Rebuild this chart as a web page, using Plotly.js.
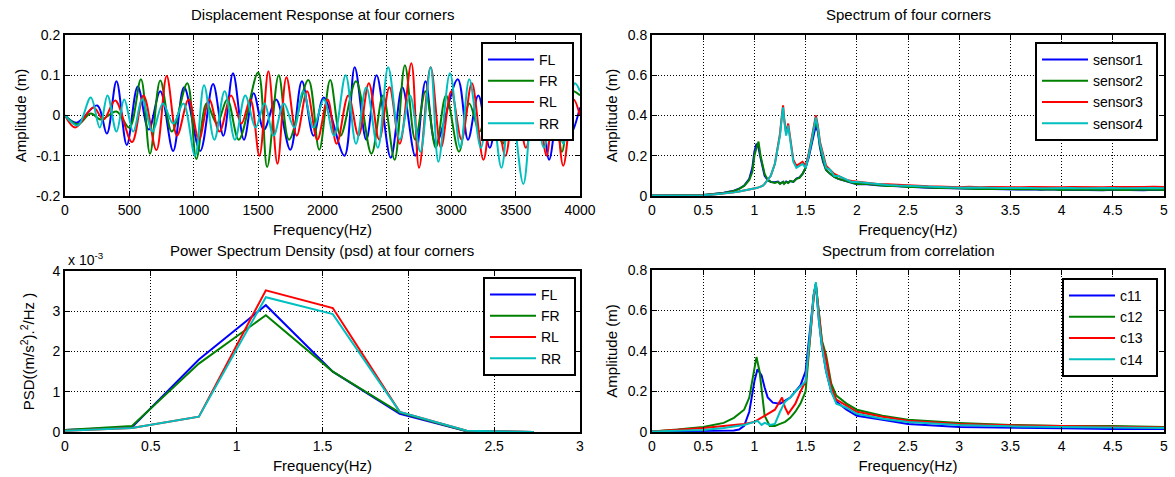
<!DOCTYPE html>
<html>
<head>
<meta charset="utf-8">
<script src="https://cdn.plot.ly/plotly-3.0.1.min.js"></script>
<style>html,body{margin:0;padding:0;background:#fff;}#chart{width:1175px;height:477px;}</style>
</head>
<body>
<div id="chart"></div>
<script>
// ---------- Panel 1: Displacement Response (extrema) ----------
const dispFL_x = [0,90,250,325,400,480,565,650,740,840,925,1050,1150,1230,1305,1390,1465,1545,1640,1750,1840,1930,2010,2170,2250,2340,2420,2530,2620,2720,2800,2880,3050,3130,3210,3300,3380,3470,3550,3650,3700,3760,3850,3920,4000];
const dispFL_y = [0,-0.018,0.025,-0.045,0.085,-0.073,0.072,-0.035,0.06,-0.088,0.07,-0.088,0.078,-0.05,0.105,-0.06,0.055,-0.035,0.04,-0.085,0.085,-0.05,0.045,-0.1,0.12,-0.06,0.1,-0.105,0.07,-0.1,0.085,-0.07,0.09,-0.06,0.05,-0.08,0.06,-0.05,0.07,-0.06,0.04,-0.11,0.06,-0.05,0.02];
const dispFR_x = [0,100,200,280,400,500,590,660,740,830,950,1020,1100,1180,1260,1350,1500,1570,1660,1740,1890,1975,2060,2140,2260,2380,2470,2560,2640,2720,2800,2880,2960,3060,3140,3220,3300,3400,3480,3560,3640,3720,3800,3860,3940,4000];
const dispFR_y = [0,-0.022,0.005,-0.01,0.01,-0.03,0.09,-0.095,0.087,-0.04,0.08,-0.108,0.03,-0.02,0.04,-0.06,0.107,-0.128,0.1,-0.06,0.088,-0.085,0.088,-0.05,0.085,-0.095,0.05,-0.11,0.125,-0.06,0.06,-0.08,0.05,-0.09,0.03,-0.04,0.05,-0.07,0.05,-0.06,0.04,-0.04,0.03,-0.09,0.06,0.05];
const dispRL_x = [0,80,220,300,390,520,610,710,790,870,960,1040,1120,1200,1290,1370,1440,1510,1580,1650,1720,1800,1880,1960,2040,2110,2200,2280,2360,2440,2520,2600,2690,2750,2840,2920,3000,3080,3160,3250,3330,3420,3500,3580,3660,3740,3800,3870,3950,4000];
const dispRL_y = [0,-0.03,0.02,-0.01,0.037,-0.066,0.05,-0.086,0.098,-0.05,0.04,-0.06,0.04,-0.04,0.05,-0.02,0.04,-0.1,0.11,-0.12,0.095,-0.05,0.06,-0.06,0.04,-0.07,0.05,-0.05,0.08,-0.06,0.07,-0.07,0.13,-0.13,0.12,-0.08,0.06,-0.06,0.08,-0.11,0.06,-0.1,0.05,-0.08,0.06,-0.1,0.05,-0.125,0.04,0.0];
const dispRR_x = [0,100,200,270,330,400,460,530,600,680,760,840,920,1010,1080,1160,1240,1320,1400,1480,1550,1620,1700,1780,1850,1930,2010,2090,2180,2260,2340,2430,2510,2600,2680,2760,2840,2900,2990,3070,3140,3230,3300,3390,3460,3560,3640,3720,3800,3870,3960,4000];
const dispRR_y = [0,-0.025,0.045,-0.03,0.05,-0.04,0.04,-0.04,0.04,-0.04,0.03,-0.02,0.03,-0.1,0.075,-0.06,0.06,-0.06,0.05,-0.03,0.03,-0.05,0.03,-0.03,0.06,-0.03,0.04,-0.05,0.1,-0.07,0.07,-0.08,0.12,-0.06,0.05,-0.09,0.12,-0.115,0.105,-0.08,0.09,-0.08,0.06,-0.13,0.04,-0.17,0.05,-0.08,0.06,-0.07,0.08,0.06];
const dispTickVals = [0,500,1000,1500,2000,2500,3000,3500,4000];
const dispTickText = ['0','500','1000','1500','2000','2500','3000','3500','4000'];
const dispYVals = [-0.2,-0.1,0,0.1,0.2];
const dispYText = ['-0.2','-0.1','0','0.1','0.2'];

// ---------- Panel 2: Spectrum of four corners ----------
const specF = [0,0.25,0.5,0.6,0.7,0.8,0.85,0.9,0.95,0.98,1.0,1.02,1.04,1.06,1.08,1.1,1.13,1.16,1.2,1.23,1.25,1.27,1.28,1.29,1.31,1.33,1.35,1.38,1.41,1.44,1.47,1.5,1.53,1.56,1.58,1.6,1.62,1.64,1.67,1.7,1.74,1.78,1.82,1.86,1.9,1.95,2.0,2.1,2.2,2.3,2.4,2.5,2.6,2.7,2.8,2.9,3.0,3.1,3.2,3.3,3.4,3.5,3.6,3.7,3.8,3.9,4.0,4.1,4.2,4.3,4.4,4.5,4.6,4.7,4.8,4.9,5.0];
const sensor1 = [0.003,0.003,0.005,0.01,0.016,0.026,0.036,0.052,0.085,0.14,0.22,0.26,0.24,0.19,0.14,0.1,0.08,0.07,0.068,0.072,0.062,0.066,0.07,0.062,0.072,0.066,0.074,0.07,0.086,0.092,0.11,0.14,0.19,0.26,0.31,0.35,0.32,0.24,0.17,0.13,0.11,0.095,0.085,0.08,0.074,0.066,0.058,0.058,0.053,0.05,0.048,0.045,0.044,0.041,0.04,0.039,0.037,0.036,0.035,0.035,0.033,0.034,0.032,0.034,0.031,0.033,0.03,0.031,0.03,0.031,0.029,0.031,0.03,0.03,0.029,0.031,0.03];
const sensor2 = [0.003,0.003,0.005,0.01,0.015,0.025,0.035,0.05,0.08,0.12,0.2,0.24,0.27,0.2,0.15,0.11,0.08,0.07,0.065,0.07,0.06,0.065,0.07,0.06,0.07,0.065,0.075,0.07,0.085,0.09,0.11,0.14,0.2,0.27,0.33,0.37,0.33,0.25,0.18,0.13,0.11,0.095,0.085,0.08,0.075,0.065,0.06,0.06,0.055,0.05,0.05,0.045,0.045,0.042,0.04,0.04,0.038,0.037,0.035,0.036,0.034,0.035,0.033,0.035,0.032,0.034,0.03,0.032,0.03,0.031,0.03,0.032,0.03,0.031,0.03,0.032,0.03];
const sensor3 = [0.003,0.003,0.004,0.008,0.012,0.018,0.022,0.027,0.03,0.033,0.035,0.04,0.043,0.048,0.05,0.06,0.08,0.1,0.16,0.25,0.31,0.41,0.45,0.39,0.31,0.36,0.28,0.18,0.15,0.16,0.17,0.15,0.21,0.29,0.34,0.4,0.35,0.27,0.21,0.15,0.13,0.11,0.1,0.09,0.08,0.075,0.072,0.066,0.06,0.058,0.055,0.052,0.05,0.048,0.047,0.045,0.044,0.046,0.043,0.045,0.044,0.046,0.043,0.045,0.044,0.046,0.043,0.045,0.044,0.046,0.043,0.045,0.044,0.046,0.045,0.046,0.045];
const sensor4 = [0.003,0.003,0.004,0.008,0.012,0.018,0.022,0.027,0.03,0.033,0.035,0.04,0.043,0.048,0.05,0.06,0.08,0.1,0.16,0.24,0.3,0.4,0.44,0.38,0.3,0.35,0.27,0.17,0.14,0.15,0.16,0.14,0.2,0.28,0.33,0.39,0.34,0.26,0.2,0.14,0.13,0.1,0.1,0.09,0.08,0.07,0.07,0.065,0.058,0.055,0.052,0.05,0.047,0.045,0.044,0.042,0.041,0.042,0.04,0.041,0.04,0.041,0.039,0.04,0.039,0.04,0.038,0.04,0.039,0.04,0.038,0.04,0.039,0.04,0.039,0.04,0.039];
const specTickVals = [0,0.5,1,1.5,2,2.5,3,3.5,4,4.5,5];
const specTickText = ['0','0.5','1','1.5','2','2.5','3','3.5','4','4.5','5'];
const ampYVals = [0,0.2,0.4,0.6,0.8];
const ampYText = ['0','0.2','0.4','0.6','0.8'];

// ---------- Panel 3: PSD ----------
const psdF = [0,0.39,0.78,1.17,1.56,1.95,2.34,2.73];
const psdFL = [0.00005,0.00012,0.0018,0.00315,0.0015,0.00045,0.00002,0.0];
const psdFR = [0.00005,0.00015,0.0017,0.0029,0.0015,0.00048,0.00002,0.0];
const psdRL = [0.00003,0.0001,0.00038,0.00352,0.00308,0.0005,0.00003,0.0];
const psdRR = [0.00003,0.0001,0.00038,0.00335,0.00293,0.0005,0.00003,0.0];
const psdXVals = [0,0.5,1,1.5,2,2.5,3];
const psdXText = ['0','0.5','1','1.5','2','2.5','3'];
const psdYVals = [0,0.001,0.002,0.003,0.004];
const psdYText = ['0','1','2','3','4'];

// ---------- Panel 4: Spectrum from correlation ----------
const c11_f = [0,0.25,0.5,0.7,0.8,0.85,0.9,0.95,1.0,1.03,1.07,1.1,1.13,1.18,1.25,1.3,1.35,1.4,1.45,1.5,1.55,1.58,1.6,1.63,1.66,1.7,1.75,1.8,1.9,2.0,2.25,2.5,3.0,3.5,4.0,4.5,5.0];
const c11 = [0.003,0.004,0.005,0.005,0.007,0.012,0.03,0.1,0.25,0.31,0.28,0.22,0.17,0.145,0.14,0.155,0.17,0.2,0.23,0.3,0.55,0.68,0.73,0.55,0.42,0.3,0.2,0.15,0.11,0.08,0.06,0.04,0.025,0.02,0.018,0.015,0.015];
const c12_f = [0,0.25,0.5,0.7,0.8,0.9,0.95,1.0,1.02,1.05,1.08,1.1,1.15,1.2,1.25,1.3,1.35,1.4,1.45,1.5,1.55,1.58,1.6,1.63,1.66,1.7,1.75,1.8,1.9,2.0,2.25,2.5,3.0,3.5,4.0,4.5,5.0];
const c12 = [0.003,0.012,0.025,0.045,0.07,0.11,0.17,0.3,0.37,0.3,0.18,0.08,0.03,0.03,0.04,0.05,0.07,0.1,0.14,0.2,0.5,0.68,0.73,0.6,0.45,0.38,0.24,0.18,0.14,0.11,0.08,0.06,0.045,0.035,0.03,0.03,0.025];
const c13_f = [0,0.25,0.5,0.7,0.9,1.0,1.1,1.2,1.27,1.3,1.33,1.4,1.45,1.5,1.55,1.58,1.6,1.63,1.66,1.7,1.75,1.8,1.9,2.0,2.25,2.5,3.0,3.5,4.0,4.5,5.0];
const c13 = [0.003,0.01,0.02,0.03,0.04,0.05,0.08,0.11,0.17,0.12,0.09,0.14,0.2,0.25,0.5,0.67,0.73,0.6,0.44,0.36,0.22,0.16,0.13,0.1,0.075,0.055,0.04,0.033,0.03,0.025,0.022];
const c14_f = [0,0.25,0.5,0.7,0.9,1.0,1.03,1.07,1.1,1.15,1.2,1.25,1.3,1.35,1.4,1.5,1.55,1.58,1.6,1.63,1.66,1.7,1.75,1.8,1.9,2.0,2.25,2.5,3.0,3.5,4.0,4.5,5.0];
const c14 = [0.003,0.005,0.01,0.02,0.035,0.05,0.055,0.035,0.045,0.035,0.04,0.1,0.15,0.17,0.2,0.25,0.5,0.68,0.74,0.55,0.42,0.3,0.2,0.14,0.12,0.09,0.065,0.05,0.035,0.028,0.025,0.022,0.02];

const BLUE='#0000FF', GREEN='#008000', RED='#FF0000', CYAN='#00BFBF';
const FONT = 'Liberation Sans, Arial, sans-serif';
const TICK=14, TTL=15, AXT=15, LEGF=14;
const PAD = '\u00a0\u00a0';

function tr(x,y,name,color,xa,ya,leg,shape){
  return {x:x,y:y,name:name+PAD,type:'scatter',mode:'lines',xaxis:xa,yaxis:ya,legend:leg,legendgroup:leg+name,
    line:{color:color,width:2,shape:shape||'linear',smoothing:1}};
}
const data = [
  tr(dispFL_x,dispFL_y,'FL',BLUE,'x','y','legend','spline'),
  tr(dispFR_x,dispFR_y,'FR',GREEN,'x','y','legend','spline'),
  tr(dispRL_x,dispRL_y,'RL',RED,'x','y','legend','spline'),
  tr(dispRR_x,dispRR_y,'RR',CYAN,'x','y','legend','spline'),
  tr(specF,sensor1,'sensor1',BLUE,'x2','y2','legend2'),
  tr(specF,sensor2,'sensor2',GREEN,'x2','y2','legend2'),
  tr(specF,sensor3,'sensor3',RED,'x2','y2','legend2'),
  tr(specF,sensor4,'sensor4',CYAN,'x2','y2','legend2'),
  tr(psdF,psdFL,'FL',BLUE,'x3','y3','legend3'),
  tr(psdF,psdFR,'FR',GREEN,'x3','y3','legend3'),
  tr(psdF,psdRL,'RL',RED,'x3','y3','legend3'),
  tr(psdF,psdRR,'RR',CYAN,'x3','y3','legend3'),
  tr(c11_f,c11,'c11',BLUE,'x4','y4','legend4'),
  tr(c12_f,c12,'c12',GREEN,'x4','y4','legend4'),
  tr(c13_f,c13,'c13',RED,'x4','y4','legend4'),
  tr(c14_f,c14,'c14',CYAN,'x4','y4','legend4')
];

const W=1175, H=477;
function xd(a,b){return [a/W,b/W];}
function yd(top,bot){return [1-bot/H,1-top/H];}
function ax(extra){
  return Object.assign({showline:true,linecolor:'#000',linewidth:2,mirror:'ticks',ticks:'inside',ticklen:5,
    tickcolor:'#000',tickwidth:1,showgrid:true,gridcolor:'#000',gridwidth:1,griddash:'1px,2px',zeroline:false,
    tickfont:{family:FONT,size:TICK,color:'#000'},tickmode:'array',automargin:false,fixedrange:true},extra);
}
function xTitle(){return {text:'Frequency(Hz)',font:{family:FONT,size:AXT,color:'#000'},standoff:8};}
function yTitle(t,s){return {text:t,font:{family:FONT,size:AXT,color:'#000'},standoff:s};}
function leg(xr,yt){
  return {x:xr/W,y:1-yt/H,xanchor:'right',yanchor:'top',bgcolor:'#fff',bordercolor:'#000',borderwidth:2,
    font:{family:FONT,size:LEGF,color:'#000'},tracegroupgap:0,traceorder:'grouped',itemclick:false,
    itemwidth:46};
}
function ann(t,x,y,anchor){
  return {text:t,x:x/W,y:1-y/H,xref:'paper',yref:'paper',xanchor:anchor||'center',yanchor:'middle',showarrow:false,
    font:{family:FONT,size:TTL,color:'#000'}};
}
const layout = {
  width:W,height:H,margin:{l:0,r:0,t:0,b:0},paper_bgcolor:'#fff',plot_bgcolor:'#fff',
  font:{family:FONT,size:12,color:'#000'},showlegend:true,
  xaxis: ax({domain:xd(65,580),range:[0,4000],tickvals:dispTickVals,ticktext:dispTickText,anchor:'y',title:xTitle()}),
  yaxis: ax({domain:yd(35,196),range:[-0.2,0.2],tickvals:dispYVals,ticktext:dispYText,anchor:'x',title:yTitle('Amplitude (m)',6)}),
  xaxis2: ax({domain:xd(652,1164),range:[0,5],tickvals:specTickVals,ticktext:specTickText,anchor:'y2',title:xTitle()}),
  yaxis2: ax({domain:yd(35,196),range:[0,0.8],tickvals:ampYVals,ticktext:ampYText,anchor:'x2',title:yTitle('Amplitude (m)',6)}),
  xaxis3: ax({domain:xd(65,580),range:[0,3],tickvals:psdXVals,ticktext:psdXText,anchor:'y3',title:xTitle()}),
  yaxis3: ax({domain:yd(271,432),range:[0,0.004],tickvals:psdYVals,ticktext:psdYText,anchor:'x3',title:yTitle('PSD((m/s<sup>2</sup>).<sup>2</sup>/Hz )',14)}),
  xaxis4: ax({domain:xd(652,1164),range:[0,5],tickvals:specTickVals,ticktext:specTickText,anchor:'y4',title:xTitle()}),
  yaxis4: ax({domain:yd(270,432),range:[0,0.8],tickvals:ampYVals,ticktext:ampYText,anchor:'x4',title:yTitle('Amplitude (m)',6)}),
  legend: leg(574,42),
  legend2: leg(1158,42),
  legend3: leg(576,277),
  legend4: leg(1158,278),
  annotations:[
    ann('Displacement Response at four corners',322,15),
    ann('Spectrum of four corners',908,15),
    ann('Power Spectrum Density (psd) at four corners',322,251),
    ann('Spectrum from correlation',908,251),
    {text:'x 10<sup>-3</sup>',x:66/W,y:1-259/H,xref:'paper',yref:'paper',xanchor:'left',yanchor:'middle',showarrow:false,font:{family:FONT,size:TICK,color:'#000'}}
  ]
};
Plotly.newPlot('chart',data,layout,{displayModeBar:false,staticPlot:true});
</script>
</body>
</html>
